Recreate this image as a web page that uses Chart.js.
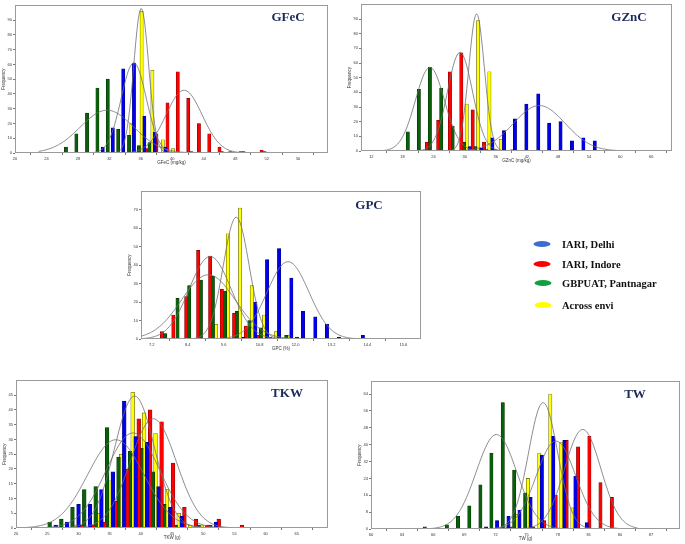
<!DOCTYPE html>
<html>
<head>
<meta charset="utf-8">
<script src="https://cdn.jsdelivr.net/npm/chart.js@4.4.1/dist/chart.umd.min.js"></script>
<style>
  body { margin: 0; background: #fff; width: 685px; height: 544px; position: relative; overflow: hidden; }
  canvas { position: absolute; }
  .ttl { position: absolute; font-family: "Liberation Serif", serif; font-weight: bold; font-size: 13px; color: #1c2b5e; transform: translate(-50%, -50%); white-space: nowrap; }
  .leg { position: absolute; font-family: "Liberation Serif", serif; font-weight: bold; font-size: 10.5px; color: #111; white-space: nowrap; transform: translateY(-50%); }
  .dot { position: absolute; width: 17px; height: 6px; border-radius: 50%; transform: translate(-50%, -50%); }
</style>
</head>
<body>
<canvas id="fec" width="329" height="164" style="left:1px;top:2px"></canvas>
<canvas id="znc" width="327" height="163" style="left:347px;top:1px"></canvas>
<canvas id="gpc" width="296" height="164" style="left:127px;top:188px"></canvas>
<canvas id="tkw" width="328" height="164" style="left:2px;top:377px"></canvas>
<canvas id="tw" width="325" height="164" style="left:357px;top:378px"></canvas>

<div class="ttl" style="left:288px;top:17px">GFeC</div>
<div class="ttl" style="left:629px;top:17px">GZnC</div>
<div class="ttl" style="left:369px;top:205px">GPC</div>
<div class="ttl" style="left:287px;top:393px">TKW</div>
<div class="ttl" style="left:635px;top:394px">TW</div>

<div class="dot" style="left:542px;top:244px;background:#3a6fd2"></div>
<div class="leg" style="left:562px;top:244px">IARI, Delhi</div>
<div class="dot" style="left:542px;top:264px;background:#ff0000"></div>
<div class="leg" style="left:562px;top:264px">IARI, Indore</div>
<div class="dot" style="left:543px;top:283px;background:#10a040"></div>
<div class="leg" style="left:562px;top:283px">GBPUAT, Pantnagar</div>
<div class="dot" style="left:543px;top:305px;background:#ffff00"></div>
<div class="leg" style="left:562px;top:305px">Across envi</div>

<script>
// series order everywhere: IARI Delhi, IARI Indore, GBPUAT Pantnagar, Across envi
const colors = ['#0000ee', '#ff0000', '#0a600a', '#ffff00'];
const edges = ['#00007a', '#7a0000', '#033003', '#555500'];

// GFeC (mg/kg)
const fecDelhiX = [31.16, 32.44, 33.76, 35.13, 36.45, 37.77, 39.13];
const fecDelhiN = [4, 17, 57, 61, 25, 14, 4];
const fecIndoreX = [36.7, 37.98, 39.39, 40.7, 42.03, 43.39, 44.7, 46.0, 47.35, 48.7, 51.36];
const fecIndoreN = [3, 13, 34, 55, 37, 20, 13, 4, 1, 1, 2];
const fecPantX = [26.48, 27.8, 29.16, 30.48, 31.8, 33.12, 34.5, 35.76, 37.1, 42.4, 46.3, 49.06, 51.74];
const fecPantN = [4, 13, 27, 44, 50, 16, 12, 5, 7, 1, 1, 1, 1];
const fecAcrossX = [34.79, 36.1, 37.47, 38.8, 40.1];
const fecAcrossN = [20, 96, 56, 9, 3];
// fitted normal curves: mean, sd, peak
const fecFit = [[35.1, 1.6, 61], [41.5, 2.3, 42.5], [31.7, 3.4, 29], [36.05, 0.95, 98]];
const fecTicks = [20, 24, 28, 32, 36, 40, 44, 48, 52, 56];
const fecYTicks = [0, 10, 20, 30, 40, 50, 60, 70, 80, 90];

// GZnC (mg/kg)
const zncDelhiX = [30.97, 33.2, 35.35, 37.6, 39.7, 41.9, 44.2, 46.3, 48.5, 50.7, 52.9, 55.1];
const zncDelhiN = [3, 2, 9, 14, 22, 32, 39, 19, 20, 7, 9, 7];
const zncIndoreX = [22.7, 24.9, 27.16, 29.35, 31.55, 33.74, 35.9];
const zncIndoreN = [6, 21, 54, 67, 28, 6, 1];
const zncPantX = [19.03, 21.16, 23.29, 25.48, 27.68, 29.87, 32.06, 34.2];
const zncPantN = [13, 42, 57, 43, 17, 6, 3, 1];
const zncAcrossX = [30.4, 32.6, 34.77, 36.97, 39.16];
const zncAcrossN = [32, 89, 54, 8, 1];
const zncFit = [[44.4, 5.0, 31], [29.1, 2.4, 67.3], [23.3, 2.8, 57], [32.3, 1.5, 93.6]];
const zncTicks = [12, 18, 24, 30, 36, 42, 48, 54, 60, 66];
const zncYTicks = [0, 10, 20, 30, 40, 50, 60, 70, 80, 90];

// GPC (%)
const gpcDelhiX = [10.26, 10.66, 11.05, 11.45, 11.86, 12.25, 12.66, 13.05, 13.45, 14.25];
const gpcDelhiN = [1, 20, 43, 49, 33, 15, 12, 8, 1, 2];
const gpcIndoreX = [7.54, 7.92, 8.35, 8.75, 9.15, 9.54, 9.95, 10.34, 10.74, 11.15];
const gpcIndoreN = [4, 13, 23, 48, 45, 27, 14, 7, 2, 1];
const gpcPantX = [7.65, 8.06, 8.45, 8.84, 9.24, 9.65, 10.04, 10.46, 10.84, 11.69, 12.05];
const gpcPantN = [3, 22, 29, 32, 34, 26, 15, 10, 6, 2, 1];
const gpcAcrossX = [9.35, 9.74, 10.15, 10.54, 10.95, 11.35, 11.73];
const gpcAcrossN = [8, 57, 71, 29, 13, 4, 2];
const gpcFit = [[11.75, 0.7, 41.9], [9.15, 0.7, 44.7], [9.09, 0.9, 34.8], [10.02, 0.43, 66]];
const gpcTicks = [7.2, 8.4, 9.6, 10.8, 12.0, 13.2, 14.4, 15.6];
const gpcYTicks = [0, 10, 20, 30, 40, 50, 60, 70];

// TKW (g)
const tkwDelhiX = [26.36, 28.19, 30.02, 31.85, 33.69, 35.52, 37.35, 39.18, 41.01, 42.84, 44.73, 46.56, 52.06];
const tkwDelhiN = [1, 2, 8, 8, 13, 19, 43, 31, 29, 14, 7, 4, 2];
const tkwIndoreX = [30.51, 32.34, 34.17, 36.0, 37.83, 39.67, 41.5, 43.33, 45.16, 46.99, 48.83, 50.66, 52.49, 56.21];
const tkwIndoreN = [1, 1, 2, 9, 20, 37, 40, 36, 22, 7, 3, 1, 3, 1];
const tkwPantX = [25.39, 27.27, 29.05, 30.94, 32.77, 34.6, 36.43, 38.27, 40.1, 41.93, 43.76, 45.59, 49.26, 51.14];
const tkwPantN = [2, 3, 7, 13, 14, 34, 24, 26, 27, 19, 8, 1, 1, 1];
const tkwAcrossX = [29.54, 33.25, 35.09, 36.86, 38.7, 40.53, 42.36, 44.19, 46.08, 47.91, 49.74];
const tkwAcrossN = [1, 5, 16, 25, 46, 39, 32, 13, 5, 1, 1];
const tkwFit = [[38.75, 4.3, 32.2], [42.0, 3.7, 37], [36.0, 4.5, 29.9], [39.0, 3.2, 44.7]];
const tkwTicks = [20, 25, 30, 35, 40, 45, 50, 55, 60, 65];
const tkwYTicks = [0, 5, 10, 15, 20, 25, 30, 35, 40, 45];

// TW (g)
const twDelhiX = [71.1, 72.16, 73.26, 74.32, 75.39, 76.48, 77.58, 78.65, 79.71, 80.81];
const twDelhiN = [1, 4, 6, 9, 15, 35, 44, 42, 25, 3];
const twIndoreX = [73.48, 75.65, 76.71, 77.81, 78.87, 79.97, 81.06, 82.13, 83.23];
const twIndoreN = [1, 1, 4, 16, 42, 39, 44, 22, 15];
const twPantX = [65.19, 67.32, 68.39, 69.48, 70.55, 71.61, 72.71, 73.81, 74.87];
const twPantN = [1, 2, 6, 11, 21, 36, 60, 28, 17];
const twAcrossX = [72.94, 74.03, 75.13, 76.23, 77.29, 78.35, 79.42];
const twAcrossN = [1, 7, 24, 36, 64, 41, 10];
const twFit = [[77.84, 1.9, 41.7], [80.42, 1.75, 47.2], [72.1, 1.95, 44.8], [76.6, 1.4, 59.9]];
const twTicks = [60, 63, 66, 69, 72, 75, 78, 81, 84, 87];
const twYTicks = [0, 8, 16, 24, 32, 40, 48, 56, 64];

Chart.defaults.font.family = 'Arial';
Chart.defaults.color = '#333';

const frame = {
  id: 'frame',
  afterDraw(chart) {
    const {ctx, chartArea: a} = chart;
    ctx.save();
    ctx.strokeStyle = '#9a9a9a';
    ctx.lineWidth = 1;
    ctx.strokeRect(Math.round(a.left) + 0.5, Math.round(a.top) + 0.5, Math.round(a.width) - 1, Math.round(a.height) - 1);
    ctx.restore();
  }
};

function histChart(id, o) {
  const datasets = [];
  o.xs.forEach((xs, i) => {
    datasets.push({
      type: 'bar',
      data: xs.map((x, j) => ({x: x, y: o.ns[i][j]})),
      backgroundColor: colors[i],
      borderColor: edges[i],
      borderWidth: 0.6,
      barThickness: o.barW,
      grouped: false,
      order: 2
    });
  });
  o.fits.forEach(f => {
    const pts = [];
    for (let k = 0; k <= 200; k++) {
      const x = o.curve[0] + (o.curve[1] - o.curve[0]) * k / 200;
      pts.push({x: x, y: f[2] * Math.exp(-0.5 * Math.pow((x - f[0]) / f[1], 2))});
    }
    datasets.push({type: 'line', data: pts, borderColor: '#707070', borderWidth: 0.8, pointRadius: 0, order: 1});
  });

  new Chart(document.getElementById(id), {
    type: 'bar',
    data: {datasets: datasets},
    options: {
      responsive: false,
      animation: false,
      devicePixelRatio: 1,
      layout: {padding: {left: 0, right: 2, top: 2, bottom: 0}},
      plugins: {legend: {display: false}, tooltip: {enabled: false}},
      scales: {
        x: {
          type: 'linear', min: o.xr[0], max: o.xr[1], offset: false,
          grid: {display: true, drawOnChartArea: false, tickLength: 2, color: '#777'},
          border: {display: false},
          ticks: {font: {size: 4}, padding: 1, maxRotation: 0, autoSkip: false,
                  callback: v => o.dec ? v.toFixed(1) : v},
          title: {display: true, text: o.xTitle, font: {size: 4.5}, padding: {top: 0, bottom: 1}},
          afterBuildTicks: s => { s.ticks = o.xt.map(v => ({value: v})); },
          afterFit: s => { s.height = 13; }
        },
        y: {
          min: 0, max: o.ymax,
          grid: {display: true, drawOnChartArea: false, tickLength: 2, color: '#777'},
          border: {display: false},
          ticks: {font: {size: 4}, padding: 1},
          title: {display: true, text: 'Frequency', font: {size: 4.5}, padding: 0},
          afterBuildTicks: s => { s.ticks = o.yt.map(v => ({value: v})); },
          afterFit: s => { s.width = 14; }
        }
      }
    },
    plugins: [frame]
  });
}

histChart('fec', {
  xs: [fecDelhiX, fecIndoreX, fecPantX, fecAcrossX],
  ns: [fecDelhiN, fecIndoreN, fecPantN, fecAcrossN],
  fits: fecFit, curve: [23, 54.7], xr: [20, 59.8], ymax: 100,
  xt: fecTicks, yt: fecYTicks, xTitle: 'GFeC (mg/kg)', barW: 3.2
});
histChart('znc', {
  xs: [zncDelhiX, zncIndoreX, zncPantX, zncAcrossX],
  ns: [zncDelhiN, zncIndoreN, zncPantN, zncAcrossN],
  fits: zncFit, curve: [13.7, 60.8], xr: [10, 70], ymax: 100,
  xt: zncTicks, yt: zncYTicks, xTitle: 'GZnC (mg/kg)', barW: 3.3
});
histChart('gpc', {
  xs: [gpcDelhiX, gpcIndoreX, gpcPantX, gpcAcrossX],
  ns: [gpcDelhiN, gpcIndoreN, gpcPantN, gpcAcrossN],
  fits: gpcFit, curve: [6.86, 15.3], xr: [6.84, 16.19], ymax: 80,
  xt: gpcTicks, yt: gpcYTicks, xTitle: 'GPC (%)', barW: 3.3, dec: true
});
histChart('tkw', {
  xs: [tkwDelhiX, tkwIndoreX, tkwPantX, tkwAcrossX],
  ns: [tkwDelhiN, tkwIndoreN, tkwPantN, tkwAcrossN],
  fits: tkwFit, curve: [21, 60.3], xr: [20, 70], ymax: 50,
  xt: tkwTicks, yt: tkwYTicks, xTitle: 'TKW (g)', barW: 3.7
});
histChart('tw', {
  xs: [twDelhiX, twIndoreX, twPantX, twAcrossX],
  ns: [twDelhiN, twIndoreN, twPantN, twAcrossN],
  fits: twFit, curve: [62.8, 85.7], xr: [60, 89.8], ymax: 70,
  xt: twTicks, yt: twYTicks, xTitle: 'TW (g)', barW: 3.3
});
</script>
</body>
</html>
